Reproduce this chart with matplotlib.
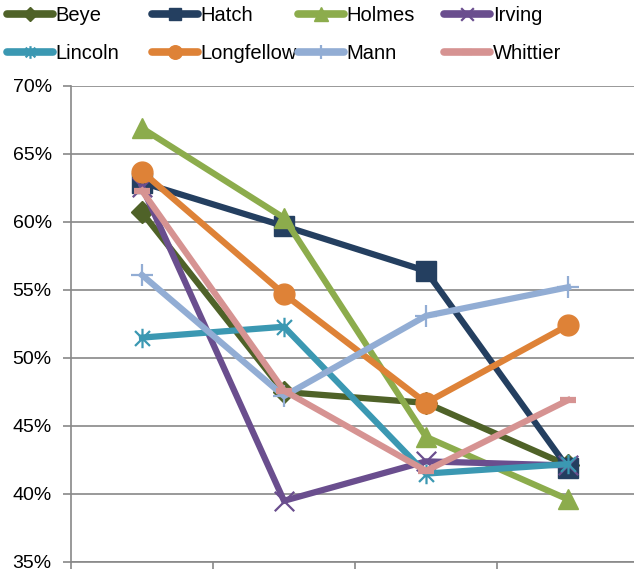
import matplotlib
matplotlib.use("Agg")
import matplotlib.pyplot as plt
from matplotlib.path import Path
from matplotlib.ticker import FuncFormatter, FixedLocator

plt.rcParams['font.family'] = ['Liberation Sans', 'DejaVu Sans']

categories = [1, 2, 3, 4]
schools = ["Beye", "Hatch", "Holmes", "Irving", "Lincoln", "Longfellow", "Mann", "Whittier"]

beye = [60.7, 47.5, 46.7, 42.1]
hatch = [62.9, 59.7, 56.4, 41.9]
holmes = [66.9, 60.3, 44.2, 39.6]
irving = [62.6, 39.5, 42.4, 42.1]
lincoln = [51.5, 52.3, 41.5, 42.2]
longfellow = [63.7, 54.7, 46.7, 52.4]
mann = [56.1, 47.2, 53.1, 55.2]
whittier = [62.3, 47.6, 41.7, 46.9]

values = [beye, hatch, holmes, irving, lincoln, longfellow, mann, whittier]
colors = ["#4F6228", "#243F60", "#8CAC4C", "#6A4E8E", "#3B98B2", "#DE8237", "#92ADD4", "#D69392"]

# Excel-style "star": an x with a vertical bar through it
star = Path([(-1, -1), (1, 1), (-1, 1), (1, -1), (0, -1.3), (0, 1.3)],
            [Path.MOVETO, Path.LINETO, Path.MOVETO, Path.LINETO, Path.MOVETO, Path.LINETO])
xmark = Path([(-1, -1), (1, 1), (-1, 1), (1, -1)],
             [Path.MOVETO, Path.LINETO, Path.MOVETO, Path.LINETO])
plusmark = Path([(-1, 0), (1, 0), (0, -1), (0, 1)],
                [Path.MOVETO, Path.LINETO, Path.MOVETO, Path.LINETO])

styles = [
    dict(marker="D", ms=11),
    dict(marker="s", ms=14),
    dict(marker="^", ms=15),
    dict(marker=xmark, ms=14, mew=1.6),
    dict(marker=star, ms=14, mew=1.6),
    dict(marker="o", ms=15),
    dict(marker=plusmark, ms=16, mew=1.6),
    dict(marker="_", ms=12, mew=4.5),
]

W, H = 634, 569
fig = plt.figure(figsize=(W / 100, H / 100), dpi=100)
left, right, top, bottom = 71, 639, 86, 562
ax = fig.add_axes([left / W, 1 - bottom / H, (right - left) / W, (bottom - top) / H])

handles = []
for name, vals, c, st in zip(schools, values, colors, styles):
    h, = ax.plot(categories, vals, color=c, lw=4.5, mfc=c, mec=c,
                 solid_joinstyle="miter", label=name, clip_on=False, **st)
    handles.append(h)

ax.set_xlim(0.5, 4.5)
ax.set_ylim(35, 70)
ax.yaxis.set_major_locator(FixedLocator([35, 40, 45, 50, 55, 60, 65, 70]))
ax.yaxis.set_major_formatter(FuncFormatter(lambda v, p: f"{v:.0f}%"))
ax.xaxis.set_major_locator(FixedLocator([0.5, 1.5, 2.5, 3.5, 4.5]))
ax.set_xticklabels([])
ax.grid(axis="y", color="#888888", lw=1.2)
ax.set_axisbelow(True)
for s in ["top", "right"]:
    ax.spines[s].set_visible(False)
for s in ["left", "bottom"]:
    ax.spines[s].set_color("#888888")
    ax.spines[s].set_linewidth(1.2)
ax.tick_params(axis="both", colors="#888888", length=5.8, width=1.2, direction="out",
               labelcolor="black", labelsize=14)
ax.tick_params(axis="y", pad=8)

# legend laid out as four fixed-width columns of two entries
col_x = [7, 152, 298, 444]
for i, x in enumerate(col_x):
    hs = [handles[i], handles[i + 4]]
    leg = fig.legend(handles=hs, labels=[h.get_label() for h in hs], loc="upper left",
                     bbox_to_anchor=(x / W, 1 - 6 / H), frameon=False, fontsize=14.5,
                     handlelength=2.3, handletextpad=0.12, borderpad=0, borderaxespad=0,
                     labelspacing=0.95, markerscale=0.65)
    for ln in leg.get_lines():
        ln.set_linewidth(5.5)
        ln.set_solid_capstyle("round")

fig.savefig("out.png", dpi=100)
